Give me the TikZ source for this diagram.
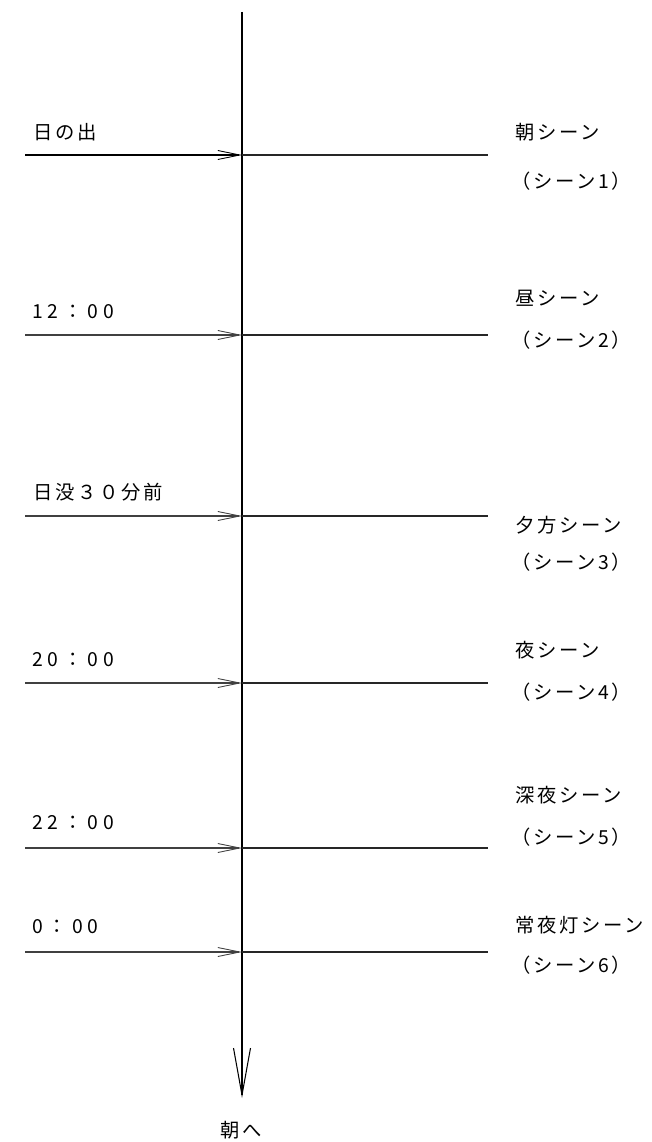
\documentclass[tikz,border=0pt]{standalone}
\usepackage{fontspec}
\setmainfont{Noto Sans CJK JP}
\usepackage{tikz}
\usetikzlibrary{arrows.meta}
\usetikzlibrary{calc}

\tikzset{
  timelabel/.style={anchor=west,inner sep=0pt,font=\fontsize{11}{12}\selectfont\addfontfeatures{LetterSpace=14}},
  clocklabel/.style={anchor=west,inner sep=0pt,font=\fontsize{11}{12}\selectfont\addfontfeatures{LetterSpace=25}},
  scenelabel/.style={anchor=west,inner sep=0pt,font=\fontsize{11}{12}\selectfont\addfontfeatures{LetterSpace=14}},
  inline/.style={black!75,line width=0.6pt,-{Straight Barb[length=4.4mm,width=1.8mm,line width=0.5pt]}},
  outline/.style={black!85,line width=0.6pt}
}

\begin{document}
\begin{tikzpicture}[x=0.02cm,y=-0.02cm]
\useasboundingbox (0,0) rectangle (652,1142);

% time axis
\coordinate (top) at (242,12);
\coordinate (bottom) at (242,1098);
\draw [black,line width=0.6pt,-{Straight Barb[length=9.4mm,width=3.4mm,line width=0.6pt]}] (top) -- (bottom);
\node [inner sep=0pt,font=\fontsize{11}{12}\selectfont\addfontfeatures{LetterSpace=14}] (toasa) at (241,1130) {朝へ};

% sunrise
\coordinate (in1) at (25,155); \coordinate (ax1) at (242,155); \coordinate (out1) at (488,155);
\draw [inline,black] (in1) -- (ax1);
\draw [outline] (ax1) -- (out1);
\node [timelabel] (t1) at (33,132) {日の出};
\node [scenelabel] (s1) at (515,132) {朝シーン};
\node [scenelabel] (n1) at (511,181) {（シーン1）};

% noon
\coordinate (in2) at (25,335); \coordinate (ax2) at (242,335); \coordinate (out2) at (488,335);
\draw [inline] (in2) -- (ax2);
\draw [outline] (ax2) -- (out2);
\node [clocklabel] (t2) at (32,312) {12：00};
\node [scenelabel] (s2) at (515,298) {昼シーン};
\node [scenelabel] (n2) at (511,340) {（シーン2）};

% before sunset
\coordinate (in3) at (25,516); \coordinate (ax3) at (242,516); \coordinate (out3) at (488,516);
\draw [inline] (in3) -- (ax3);
\draw [outline] (ax3) -- (out3);
\node [timelabel] (t3) at (33,492) {日没３０分前};
\node [scenelabel] (s3) at (515,525) {夕方シーン};
\node [scenelabel] (n3) at (511,562) {（シーン3）};

% night
\coordinate (in4) at (25,683); \coordinate (ax4) at (242,683); \coordinate (out4) at (488,683);
\draw [inline] (in4) -- (ax4);
\draw [outline] (ax4) -- (out4);
\node [clocklabel] (t4) at (32,660) {20：00};
\node [scenelabel] (s4) at (515,650) {夜シーン};
\node [scenelabel] (n4) at (511,692) {（シーン4）};

% late night
\coordinate (in5) at (25,848); \coordinate (ax5) at (242,848); \coordinate (out5) at (488,848);
\draw [inline] (in5) -- (ax5);
\draw [outline] (ax5) -- (out5);
\node [clocklabel] (t5) at (32,823) {22：00};
\node [scenelabel] (s5) at (515,795) {深夜シーン};
\node [scenelabel] (n5) at (511,837) {（シーン5）};

% night light
\coordinate (in6) at (25,952); \coordinate (ax6) at (242,952); \coordinate (out6) at (488,952);
\draw [inline] (in6) -- (ax6);
\draw [outline] (ax6) -- (out6);
\node [clocklabel] (t6) at (32,927) {0：00};
\node [scenelabel] (s6) at (515,925) {常夜灯シーン};
\node [scenelabel] (n6) at (511,965) {（シーン6）};

\end{tikzpicture}
\end{document}
